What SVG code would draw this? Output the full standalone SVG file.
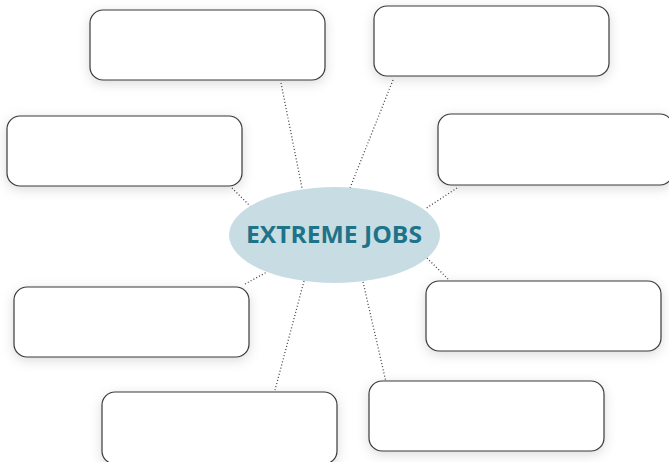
<svg xmlns="http://www.w3.org/2000/svg" width="669" height="462" viewBox="0 0 669 462">
<defs>
<filter id="sh" x="-20%" y="-40%" width="140%" height="180%">
<feDropShadow dx="0" dy="3" stdDeviation="6" flood-color="#000" flood-opacity="0.14"/>
</filter>
</defs>
<style>
.box{fill:#fff;stroke:#3a3a3a;stroke-width:1.2;filter:url(#sh)}
.con{stroke:#444;stroke-width:1.3;stroke-dasharray:1 2.2;fill:none}
.title{font-family:"Open Sans","Noto Sans",sans-serif;font-weight:bold;font-size:24px;fill:#1e7388}
</style>
<rect width="669" height="462" fill="#fff"/>
<g id="connectors">
<line class="con" x1="281" y1="83" x2="302" y2="188"/>
<line class="con" x1="393" y1="80" x2="350" y2="188"/>
<line class="con" x1="232" y1="188" x2="251" y2="207"/>
<line class="con" x1="457" y1="188" x2="425" y2="209"/>
<line class="con" x1="245" y1="284" x2="267" y2="272"/>
<line class="con" x1="427" y1="258" x2="448" y2="279"/>
<line class="con" x1="304" y1="281" x2="275" y2="390"/>
<line class="con" x1="363" y1="282" x2="386" y2="382"/>
</g>
<g id="node-box1"><rect class="box" x="90" y="10" width="235" height="70" rx="13"/></g>
<g id="node-box2"><rect class="box" x="374" y="6" width="235" height="70" rx="13"/></g>
<g id="node-box3"><rect class="box" x="7" y="116" width="235" height="70" rx="13"/></g>
<g id="node-box4"><rect class="box" x="438" y="114" width="235" height="71" rx="13"/></g>
<g id="node-box5"><rect class="box" x="14" y="287" width="235" height="70" rx="13"/></g>
<g id="node-box6"><rect class="box" x="426" y="281" width="235" height="70" rx="13"/></g>
<g id="node-box7"><rect class="box" x="102" y="392" width="235" height="72" rx="13"/></g>
<g id="node-box8"><rect class="box" x="369" y="381" width="235" height="70" rx="13"/></g>
<g id="node-center">
<ellipse cx="334.5" cy="235" rx="105.5" ry="48" fill="#c8dde3"/>
<text class="title" x="246" y="243" textLength="176" lengthAdjust="spacingAndGlyphs">EXTREME JOBS</text>
</g>
</svg>
